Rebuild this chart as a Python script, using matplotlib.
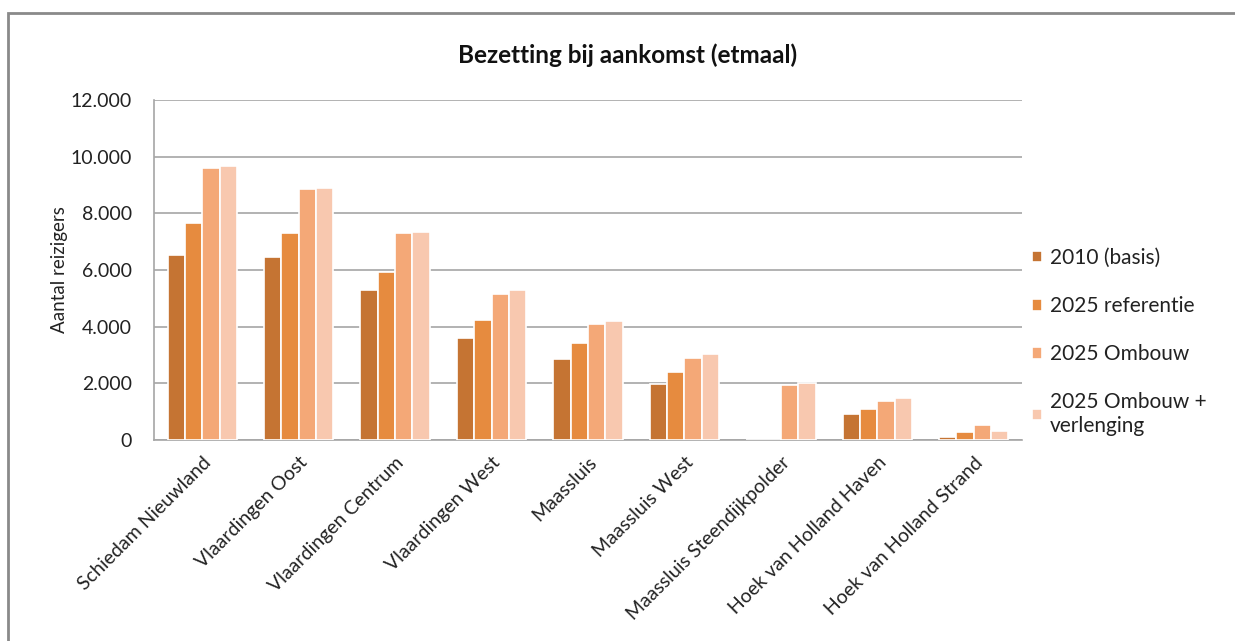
import numpy as np
import matplotlib.pyplot as plt
from matplotlib.patches import Rectangle
from matplotlib.ticker import FuncFormatter

plt.rcParams['font.family'] = ['Lato', 'DejaVu Sans']

stations = ['Schiedam Nieuwland', 'Vlaardingen Oost', 'Vlaardingen Centrum',
            'Vlaardingen West', 'Maassluis', 'Maassluis West',
            'Maassluis Steendijkpolder', 'Hoek van Holland Haven',
            'Hoek van Holland Strand']

basis_2010 = [6520, 6450, 5290, 3610, 2870, 1980, 0, 920, 110]
referentie_2025 = [7670, 7290, 5940, 4220, 3420, 2400, 0, 1090, 290]
ombouw_2025 = [9590, 8850, 7290, 5150, 4080, 2910, 1930, 1380, 530]
verlenging_2025 = [9680, 8890, 7340, 5280, 4210, 3050, 2020, 1470, 310]

series = [basis_2010, referentie_2025, ombouw_2025, verlenging_2025]
labels = ['2010 (basis)', '2025 referentie', '2025 Ombouw',
          '2025 Ombouw +\nverlenging']
colors = ['#C57433', '#E68B3F', '#F4A877', '#F8C8AF']

fig = plt.figure(figsize=(12.35, 6.41), dpi=100)
ax = fig.add_axes([0.1247, 0.3136, 0.7028, 0.5304])

# grey frame around the whole chart
fig.patches.append(Rectangle((8 / 1235, -0.1), 1.2, 1 - 13 / 641 + 0.1,
                             transform=fig.transFigure, fill=False,
                             edgecolor='#8a8a8a', linewidth=2))

x = np.arange(len(stations))
w = 0.18
for i, (vals, lab, col) in enumerate(zip(series, labels, colors)):
    ax.bar(x + (i - 1.5) * w, vals, w, label=lab, color=col,
           edgecolor='white', linewidth=1.2, zorder=3)

ax.set_xlim(-0.5, len(stations) - 0.5)
ax.set_ylim(0, 12000)
ax.set_yticks(np.arange(0, 12001, 2000))
ax.yaxis.set_major_formatter(FuncFormatter(lambda v, p: f'{int(v):,}'.replace(',', '.')))
ax.grid(axis='y', color='#a6a6a6', linewidth=1.2, zorder=0)
ax.set_xticks(x)
ax.set_xticklabels(stations, rotation=45, ha='right', rotation_mode='anchor',
                   fontsize=14, color='#222222')
ax.tick_params(axis='y', labelsize=14, colors='#222222', length=0, pad=16)
ax.tick_params(axis='x', length=0, pad=10)
for s in ['top', 'right']:
    ax.spines[s].set_visible(False)
ax.spines['left'].set_color('#a6a6a6')
ax.spines['bottom'].set_color('#a6a6a6')
ax.spines['left'].set_linewidth(1.2)
ax.spines['bottom'].set_linewidth(1.2)

ax.set_ylabel('Aantal reizigers', fontsize=13.5, color='#222222', labelpad=2)
fig.text(0.508, 1 - 55 / 641, 'Bezetting bij aankomst (etmaal)', ha='center',
         va='center', fontsize=17.5, fontweight='bold', color='#111111')

ax.legend(loc='upper left', bbox_to_anchor=(0.99, 0.62), frameon=False,
          fontsize=15, handlelength=0.5, handleheight=0.5, handletextpad=0.35,
          labelspacing=1.35, labelcolor='#222222')

fig.savefig('out.png', dpi=100)
